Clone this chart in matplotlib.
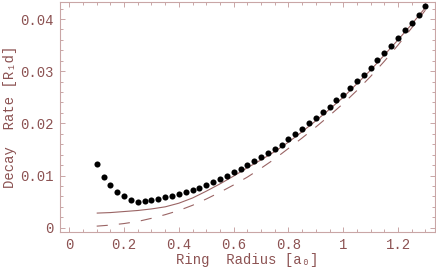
import matplotlib
matplotlib.use("Agg")
import matplotlib.pyplot as plt
from matplotlib.ticker import MultipleLocator, FixedLocator, FixedFormatter

# ---- data ----
dot_x = [0.1, 0.125, 0.15, 0.175, 0.2, 0.225, 0.25, 0.275, 0.3, 0.325, 0.35, 0.375,
         0.4, 0.425, 0.45, 0.475, 0.5, 0.525, 0.55, 0.575, 0.6, 0.625, 0.65, 0.675,
         0.7, 0.725, 0.75, 0.775, 0.8, 0.825, 0.85, 0.875, 0.9, 0.925, 0.95, 0.975,
         1.0, 1.025, 1.05, 1.075, 1.1, 1.125, 1.15, 1.175, 1.2, 1.225, 1.25, 1.275, 1.3]
dot_y = [0.0122, 0.00975, 0.0081, 0.0069, 0.0060, 0.0054, 0.0050, 0.0051, 0.0053,
         0.0055, 0.0058, 0.0060, 0.0064, 0.0068, 0.0072, 0.0077, 0.0082, 0.0088,
         0.0094, 0.0100, 0.0106, 0.0113, 0.0121, 0.0128, 0.0135, 0.0144, 0.0151,
         0.0159, 0.0170, 0.0180, 0.0190, 0.0200, 0.0210, 0.0221, 0.0232, 0.0244,
         0.0255, 0.0268, 0.0281, 0.0293, 0.0306, 0.0321, 0.0335, 0.0349, 0.0363,
         0.0378, 0.0393, 0.0408, 0.0425]

curve_x = [0.10, 0.15, 0.20, 0.25, 0.30, 0.35, 0.40, 0.45, 0.50, 0.55, 0.60, 0.65,
           0.70, 0.75, 0.80, 0.85, 0.90, 0.95, 1.00, 1.05, 1.10, 1.15, 1.20, 1.25, 1.30]
solid_y = [0.0028, 0.0029, 0.0031, 0.0033, 0.0036, 0.0040, 0.0047, 0.0057, 0.0070,
           0.0084, 0.0099, 0.0115, 0.0130, 0.0146, 0.0164, 0.0184, 0.0205, 0.0227,
           0.0250, 0.0276, 0.0302, 0.0331, 0.0360, 0.0390, 0.0422]
dashed_y = [0.0003, 0.0005, 0.0008, 0.0012, 0.0018, 0.0025, 0.0033, 0.0043, 0.0055,
            0.0068, 0.0082, 0.0097, 0.0114, 0.0132, 0.0152, 0.0172, 0.0193, 0.0215,
            0.0238, 0.0263, 0.0290, 0.0319, 0.0350, 0.0383, 0.0417]

x_ticks = [0, 0.2, 0.4, 0.6, 0.8, 1.0, 1.2]
x_tick_labels = ["0", "0.2", "0.4", "0.6", "0.8", "1", "1.2"]
y_ticks = [0, 0.01, 0.02, 0.03, 0.04]
y_tick_labels = ["0", "0.01", "0.02", "0.03", "0.04"]

x_label = "Ring  Radius [a\u2080]"
y_label = "Decay  Rate [R\u2081d]"

# ---- style ----
text_col = "#8c5252"
line_col = "#9a6464"
frame_col = "#c9a6a6"

plt.rcParams["font.family"] = ["Liberation Mono", "DejaVu Sans Mono"]

fig = plt.figure(figsize=(4.36, 2.70), dpi=100)
ax = fig.add_axes([60 / 436, 37.7 / 270, 375 / 436, 230.3 / 270])

ax.plot(curve_x, solid_y, color=line_col, lw=0.8, solid_capstyle="butt")
ax.plot(curve_x, dashed_y, color=line_col, lw=0.8, dashes=(10, 10))
ax.plot(dot_x, dot_y, "o", color="black", ms=4.4, mew=0)

ax.set_xlim(-0.034, 1.335)
ax.set_ylim(-0.00088, 0.04326)

ax.xaxis.set_major_locator(FixedLocator(x_ticks))
ax.xaxis.set_major_formatter(FixedFormatter(x_tick_labels))
ax.xaxis.set_minor_locator(MultipleLocator(0.05))
ax.yaxis.set_major_locator(FixedLocator(y_ticks))
ax.yaxis.set_major_formatter(FixedFormatter(y_tick_labels))
ax.yaxis.set_minor_locator(MultipleLocator(0.002))

ax.tick_params(which="both", direction="in", top=True, right=True,
               color=frame_col, labelcolor=text_col, labelsize=10, width=0.7)
ax.tick_params(which="major", length=3.5)
ax.tick_params(which="minor", length=2)
ax.tick_params(axis="x", pad=4)
ax.tick_params(axis="y", pad=4.5)

for s in ax.spines.values():
    s.set_color(frame_col)
    s.set_linewidth(0.8)

ax.set_xlabel(x_label, color=text_col, fontsize=10)
ax.xaxis.set_label_coords(0.5, -0.088)
ax.set_ylabel(y_label, color=text_col, fontsize=10, labelpad=2)

fig.savefig("out.png", dpi=100)
